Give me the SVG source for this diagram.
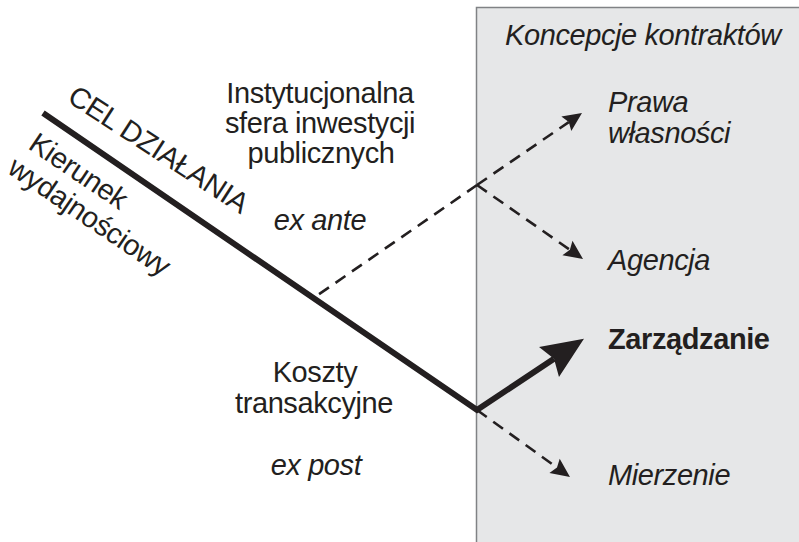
<svg xmlns="http://www.w3.org/2000/svg" width="799" height="542" viewBox="0 0 799 542">
  <style>
    text { font-family: "Liberation Sans", Arial, Helvetica, sans-serif; font-size: 29px; letter-spacing: -0.4px; fill: #231f20; }
    .it { font-style: italic; }
    .bd { font-weight: bold; }
    .mid { text-anchor: middle; }
    .dash { fill: none; stroke: #231f20; stroke-width: 2.6; stroke-dasharray: 12 8; }
    .thick { fill: none; stroke: #231f20; stroke-width: 6; stroke-linejoin: miter; }
  </style>
  <defs>
    <marker id="headSmall" markerUnits="userSpaceOnUse" orient="auto" refX="0" refY="0"
            markerWidth="40" markerHeight="40" viewBox="-20 -20 40 40" overflow="visible">
      <path d="M16,0 L-3,-8.8 L0,0 L-3,8.8 Z" fill="#231f20"/>
    </marker>
    <marker id="headBig" markerUnits="userSpaceOnUse" orient="auto" refX="0" refY="0"
            markerWidth="90" markerHeight="90" viewBox="-45 -45 90 90" overflow="visible">
      <path d="M36,0 L-6,-18 L0,0 L-6,18 Z" fill="#231f20"/>
    </marker>
  </defs>

  <rect width="799" height="542" fill="#ffffff"/>

  <!-- contract concepts panel -->
  <g id="panel">
    <rect x="476.5" y="7.5" width="340" height="560" fill="#e6e7e8" stroke="#808285" stroke-width="1.5"/>
    <text class="it" x="505" y="45">Koncepcje kontraktów</text>
  </g>

  <!-- connectors -->
  <g id="connectors">
    <path class="thick" d="M43,113 L477,410 L554,358.7" marker-end="url(#headBig)"/>
    <line class="dash" x1="477" y1="185" x2="315" y2="297"/>
    <line class="dash" x1="477" y1="185" x2="568.8" y2="122.1" marker-end="url(#headSmall)"/>
    <line class="dash" x1="477" y1="185" x2="569.9" y2="249.8" marker-end="url(#headSmall)"/>
    <line class="dash" x1="477" y1="410" x2="557" y2="467.6" marker-end="url(#headSmall)"/>
  </g>

  <!-- labels along the main line -->
  <g id="cel-dzialania">
    <text transform="translate(66,101) rotate(33)">CEL DZIAŁANIA</text>
  </g>
  <g id="kierunek">
    <text transform="translate(27,148) rotate(34)">Kierunek</text>
    <text transform="translate(6,172) rotate(34)">wydajnościowy</text>
  </g>

  <g id="sfera">
    <text class="mid" x="320" y="103">Instytucjonalna</text>
    <text class="mid" x="320" y="133">sfera inwestycji</text>
    <text class="mid" x="321" y="163">publicznych</text>
    <text class="mid it" x="320" y="230">ex ante</text>
  </g>

  <g id="koszty">
    <text class="mid" x="315" y="382">Koszty</text>
    <text class="mid" x="314" y="413">transakcyjne</text>
    <text class="mid it" x="316" y="475">ex post</text>
  </g>

  <g id="prawa">
    <text class="it" x="608" y="112">Prawa</text>
    <text class="it" x="608" y="143">własności</text>
  </g>
  <g id="agencja">
    <text class="it" x="608" y="270">Agencja</text>
  </g>
  <g id="zarzadzanie">
    <text class="bd" x="608" y="349">Zarządzanie</text>
  </g>
  <g id="mierzenie">
    <text class="it" x="608" y="485">Mierzenie</text>
  </g>
</svg>
